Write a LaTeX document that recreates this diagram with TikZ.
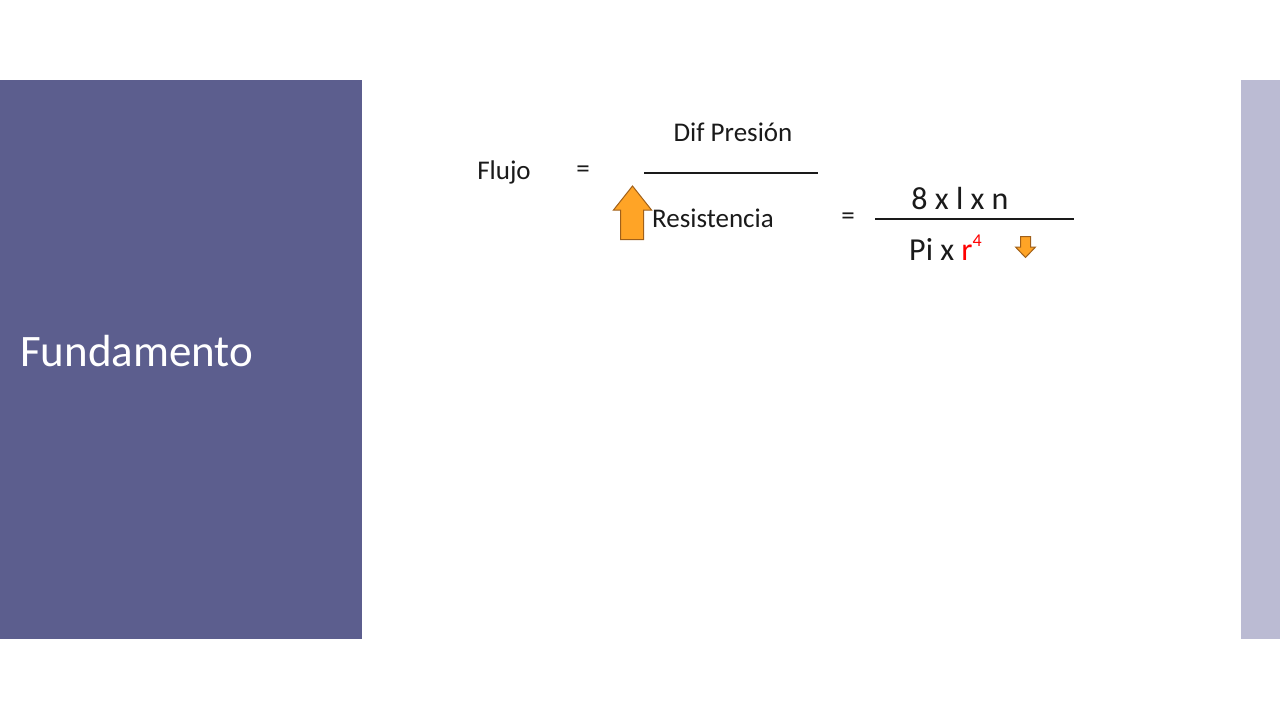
\documentclass[tikz,border=0pt]{standalone}
\usepackage{fontspec}
\setmainfont{Carlito}
\definecolor{panel}{HTML}{5C5E8E}
\definecolor{side}{HTML}{BBBBD3}
\definecolor{arrfill}{HTML}{FFA426}
\definecolor{arrdraw}{HTML}{A0601A}
\definecolor{txt}{HTML}{1A1A1A}
\tikzset{lbl/.style={inner sep=0pt,text=txt,font=\fontsize{27}{30}\selectfont},
big/.style={inner sep=0pt,text=txt,font=\fontsize{32}{36}\selectfont},
bar/.style={line width=2.5pt,txt},
arr/.style={fill=arrfill,draw=arrdraw,line width=1pt}}
\begin{document}
\begin{tikzpicture}[x=1pt,y=-1pt]
\useasboundingbox (0,0) rectangle (1280,720);
\fill[panel] (0,80) rectangle (362,639);
\fill[side] (1241,80) rectangle (1280,639);
\node[anchor=west,inner sep=0pt,text=white,font=\fontsize{45}{50}\selectfont] (fund) at (20,351) {Fundamento};
\node[lbl] (flujo) at (504,172) {Flujo};
\node[lbl] (eq1) at (583,172) {=};
\node[lbl] (dif) at (733,132) {Dif Presión};
\coordinate (b1l) at (644,173); \coordinate (b1r) at (818,173);
\draw[bar] (b1l) -- (b1r);
\node[lbl,anchor=west] (res) at (652,218) {Resistencia};
\node[lbl] (eq2) at (848,219) {=};
\node[big] (num) at (960,199) {8 x l x n};
\coordinate (b2l) at (875,219); \coordinate (b2r) at (1074,219);
\draw[bar] (b2l) -- (b2r);
\node[big,anchor=west] (den) at (909,248) {Pi x \textcolor{red}{r\raisebox{0.45em}{\fontsize{18}{20}\selectfont 4}}};
\draw[arr] (620.5,239.5) -- (620.5,210) -- (613.5,210) -- (632.5,186) -- (651.5,210) -- (643.5,210) -- (643.5,239.5) -- cycle;
\draw[arr] (1020.5,236.5) -- (1030.5,236.5) -- (1030.5,247) -- (1035.5,247) -- (1025.5,257.5) -- (1015.5,247) -- (1020.5,247) -- cycle;
\end{tikzpicture}
\end{document}
